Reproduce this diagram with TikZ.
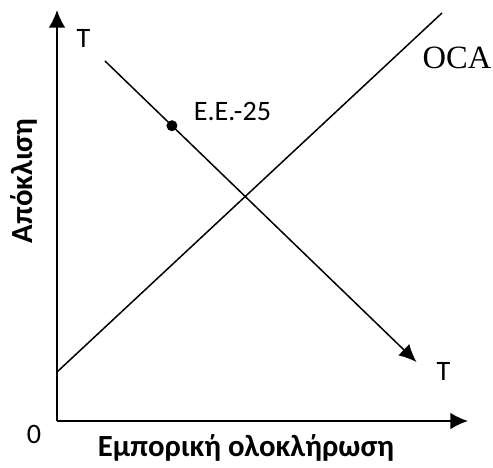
\documentclass[tikz,border=0pt]{standalone}
\usepackage{fontspec}
\setmainfont{Carlito}
\newfontfamily\ocafont{Liberation Serif}
\usetikzlibrary{arrows.meta}

\begin{document}
\begin{tikzpicture}[
    axis/.style={line width=1.1pt, -{Latex[length=10pt,width=9.5pt]}},
    curve/.style={line width=0.85pt},
    dot/.style={circle, fill, inner sep=0pt, minimum size=0.22cm},
    lbl/.style={font=\fontsize{16}{18}\selectfont, inner sep=0pt},
    axlbl/.style={font=\fontsize{17.5}{20}\selectfont\bfseries, inner sep=0pt}
]
    \useasboundingbox (-1.14,-0.92) rectangle (8.72,8.42);
    % Eixos
    \coordinate (O) at (0,0);
    \coordinate (ymax) at (0,8.22);
    \coordinate (xmax) at (8.22,0);
    \draw[axis] (O) -- (ymax);
    \draw[axis] (O) -- (xmax);
    \node[lbl] (zero) at (-0.46,-0.26) {0};
    \node[axlbl, anchor=base] (xlab) at (3.78,-0.714) {Εμπορική ολοκλήρωση};
    \node[axlbl, anchor=base, rotate=90] (ylab) at (-0.5,4.8) {Απόκλιση};
    % Recta OCA
    \coordinate (oca1) at (0,0.98);
    \coordinate (oca2) at (7.7,8.16);
    \draw[curve] (oca1) -- (oca2);
    \node[font=\ocafont\fontsize{18.5}{20}\selectfont, inner sep=0pt] (oca) at (8.0,7.26) {OCA};
    % Recta TT amb el punt E.E.-25
    \coordinate (tt1) at (0.96,7.2);
    \coordinate (tt2) at (7.19,1.18);
    \draw[curve, -{Latex[length=10pt,width=9pt]}] (tt1) -- (tt2)
        node[pos=0.215, dot] (ee) {};
    \node[lbl] (ttop) at (0.53,7.66) {T};
    \node[lbl] (tbot) at (7.73,0.99) {T};
    \node[lbl] (eelab) at (3.51,6.2) {E.E.-25};
\end{tikzpicture}
\end{document}
